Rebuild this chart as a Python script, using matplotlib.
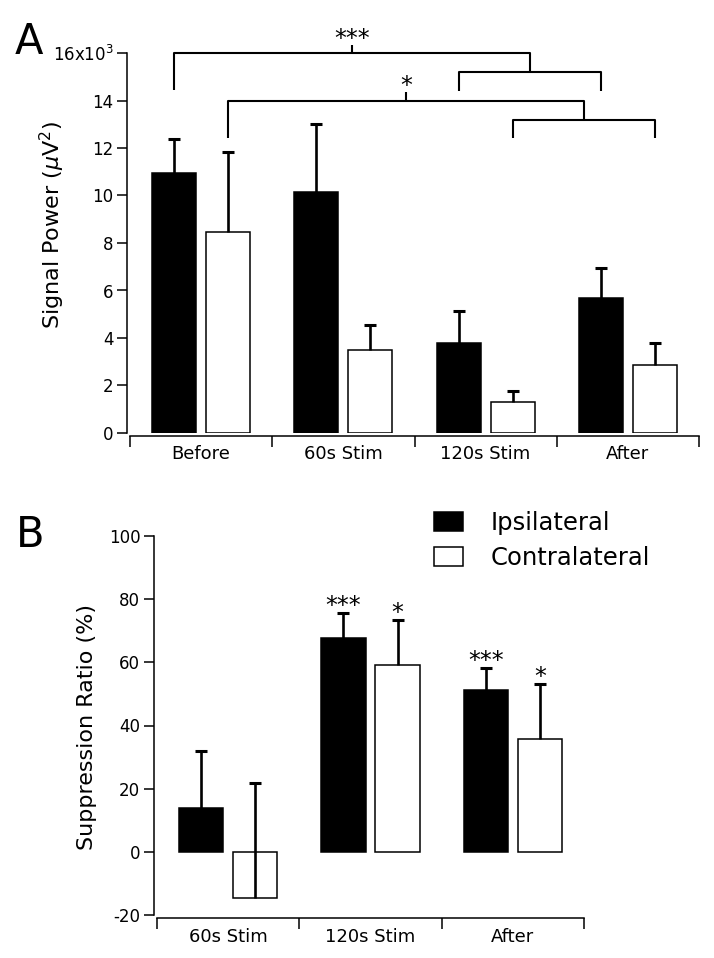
import numpy as np
import matplotlib
matplotlib.use("Agg")
from matplotlib import pyplot as plt

plt.rcParams['font.family'] = ['DejaVu Sans']
plt.rcParams['axes.unicode_minus'] = False

# Panel A: signal power (x10^3 uV^2)
groups_a = ["Before", "60s Stim", "120s Stim", "After"]
ipsi_a = [10.95, 10.15, 3.79, 5.68]
ipsi_a_err = [1.43, 2.85, 1.35, 1.27]
contra_a = [8.46, 3.49, 1.31, 2.86]
contra_a_err = [3.37, 1.06, 0.46, 0.93]

# Panel B: suppression ratio (%)
groups_b = ["60s Stim", "120s Stim", "After"]
ipsi_b = [13.9, 67.7, 51.3]
ipsi_b_err = [18.1, 7.9, 6.9]
contra_b = [-14.6, 59.2, 35.8]
contra_b_err = [36.4, 14.2, 17.4]
stars_ipsi_b = ["", "***", "***"]
stars_contra_b = ["", "*", "*"]

W = 0.31
OFF = 0.19
LW = 1.1


def bar_panel(ax, groups, ipsi, ipsi_err, contra, contra_err):
    x = np.arange(len(groups)) + 0.5
    xi = x - OFF
    xc = x + OFF
    ax.bar(xi, ipsi, W, color='k', edgecolor='k', linewidth=LW, zorder=2, label="Ipsilateral")
    ax.bar(xc, contra, W, color='w', edgecolor='k', linewidth=LW, zorder=2, label="Contralateral")
    for xx, m, e in [(xi, ipsi, ipsi_err), (xc, contra, contra_err)]:
        m = np.array(m)
        e = np.array(e)
        ax.vlines(xx, m, m + e, color='k', linewidth=1.9, zorder=3)
        ax.plot(xx, m + e, linestyle='none', marker='_', markersize=8, mew=2.2, color='k', zorder=3)
    ax.set_xlim(0, len(groups))
    ax.set_xticks(np.arange(len(groups) + 1))
    ax.set_xticklabels([])
    ax.set_xticks(x, minor=True)
    ax.set_xticklabels(groups, minor=True)
    ax.tick_params(axis='x', which='major', direction='out', length=8, width=LW)
    ax.tick_params(axis='x', which='minor', length=0, pad=7, labelsize=13)
    ax.tick_params(axis='y', direction='out', length=7, width=LW, labelsize=12, pad=3)
    for s in ['top', 'right']:
        ax.spines[s].set_visible(False)
    for s in ['left', 'bottom']:
        ax.spines[s].set_linewidth(LW)
    ax.spines['left'].set_position(('outward', 2))
    ax.spines['bottom'].set_position(('outward', 2))
    return xi, xc


fig = plt.figure(figsize=(7.14, 9.58), dpi=100)

# ---- Panel A
axA = fig.add_axes([130 / 714, 1 - 433 / 958, 569 / 714, 380 / 958])
xi, xc = bar_panel(axA, groups_a, ipsi_a, ipsi_a_err, contra_a, contra_a_err)
axA.set_ylim(0, 16)
axA.set_yticks(np.arange(0, 17, 2))
axA.set_yticklabels([str(v) for v in range(0, 15, 2)] + ["16x10$^3$"])

# significance brackets
kw = dict(color='k', linewidth=1.5, clip_on=False, solid_capstyle='butt')
for src, a, b, top, low, stars in [(xi[0], xi[2], xi[3], 16.0, 15.2, "***"),
                                     (xc[0], xc[2], xc[3], 14.0, 13.2, "*")]:
    mid = (a + b) / 2
    leg = 0.78
    axA.plot([src, src, mid, mid], [top - leg * 2, top, top, low], **kw)
    axA.plot([a, a, b, b], [low - leg, low, low, low - leg], **kw)
    c = (src + mid) / 2
    axA.plot([c, c], [top, top + 0.34], **kw)
    axA.text(c, top + 0.1, stars, ha='center', va='bottom', fontsize=17)

fig.text(15 / 714, 1 - 54 / 958, "A", fontsize=30, ha='left', va='baseline')
fig.text(52 / 714, 1 - 225 / 958, "Signal Power ($\\mu$V$^2$)", rotation=90,
         ha='center', va='center', fontsize=16)

# ---- Panel B
axB = fig.add_axes([157 / 714, 1 - 915 / 958, 427 / 714, 379 / 958])
xi, xc = bar_panel(axB, groups_b, ipsi_b, ipsi_b_err, contra_b, contra_b_err)
axB.set_ylim(-20, 100)
axB.set_yticks(np.arange(-20, 101, 20))
for xx, m, e, st in zip(xi, ipsi_b, ipsi_b_err, stars_ipsi_b):
    axB.text(xx, m + e - 1.5, st, ha='center', va='bottom', fontsize=17)
for xx, m, e, st in zip(xc, contra_b, contra_b_err, stars_contra_b):
    axB.text(xx, m + e - 1.5, st, ha='center', va='bottom', fontsize=17)

fig.text(16 / 714, 1 - 547 / 958, "B", fontsize=30, ha='left', va='baseline')
fig.text(87 / 714, 1 - 727 / 958, "Suppression Ratio (%)", rotation=90,
         ha='center', va='center', fontsize=16)

axB.legend(loc='upper left', bbox_to_anchor=(434 / 714, 1 - 511 / 958),
           bbox_transform=fig.transFigure, frameon=False, fontsize=17.5,
           handlelength=1.2, handleheight=0.8, handletextpad=1.15,
           labelspacing=0.45, borderaxespad=0, borderpad=0)

fig.savefig("out.png", dpi=100)
